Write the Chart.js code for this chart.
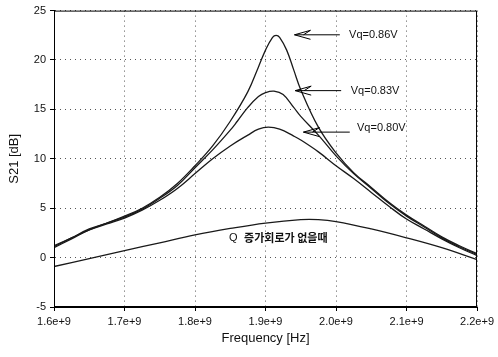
<!DOCTYPE html>
<html>
<head>
<meta charset="utf-8">
<script src="https://cdn.jsdelivr.net/npm/chart.js@4/dist/chart.umd.min.js"></script>
<style>
html,body{margin:0;padding:0;background:#fff;}
#wrap{width:498px;height:357px;position:relative;}
</style>
</head>
<body>
<div id="wrap"><canvas id="c" width="498" height="357"></canvas></div>
<script>
// Frequencies in GHz (x 1e9 Hz), S21 in dB
const freq86 = [1.600,1.625,1.650,1.675,1.700,1.725,1.750,1.775,1.800,1.825,1.850,1.875,1.890,1.900,1.910,1.915,1.920,1.930,1.940,1.950,1.975,2.000,2.025,2.050,2.075,2.100,2.125,2.150,2.175,2.200];
const s86    = [1.1,2.0,2.9,3.5,4.2,5.0,6.1,7.5,9.3,11.3,13.8,16.8,19.3,21.0,22.3,22.5,22.3,21.0,19.0,17.0,13.2,10.6,8.6,7.1,5.6,4.3,3.2,2.1,1.2,0.4];
const freq83 = [1.600,1.625,1.650,1.675,1.700,1.725,1.750,1.775,1.800,1.825,1.850,1.860,1.875,1.890,1.900,1.912,1.925,1.940,1.950,1.975,2.000,2.025,2.050,2.075,2.100,2.125,2.150,2.175,2.200];
const s83    = [1.0,1.9,2.8,3.5,4.1,4.9,6.0,7.3,9.1,10.9,12.9,13.8,15.2,16.3,16.7,16.85,16.5,15.2,14.3,12.4,10.3,8.5,7.0,5.5,4.2,3.1,2.0,1.1,0.3];
const freq80 = [1.600,1.625,1.650,1.675,1.700,1.725,1.750,1.775,1.800,1.825,1.850,1.875,1.890,1.904,1.920,1.940,1.950,1.975,2.000,2.025,2.050,2.075,2.100,2.125,2.150,2.175,2.200];
const s80    = [1.2,2.0,2.8,3.4,4.0,4.8,5.8,7.0,8.5,10.0,11.3,12.4,13.0,13.2,13.0,12.3,11.9,10.7,9.3,8.0,6.6,5.2,3.9,2.9,1.9,1.0,0.2];
const freqNoQ = [1.600,1.650,1.700,1.750,1.800,1.850,1.900,1.950,1.975,2.000,2.050,2.100,2.150,2.200];
const sNoQ    = [-0.9,-0.1,0.7,1.5,2.3,2.95,3.5,3.85,3.85,3.65,2.9,2.0,1.0,-0.2];
const xTicks = [1.6,1.7,1.8,1.9,2.0,2.1,2.2];
const yTicks = [-5,0,5,10,15,20,25];
const seriesLabels = ['Vq=0.86V','Vq=0.83V','Vq=0.80V','Q 증가회로가 없을때'];

// annotation placement (data coordinates)
const notes = [
  {text:seriesLabels[0], tip:1.9411, tail:2.0054, ay:22.55, tx:2.0185, ty:22.55},
  {text:seriesLabels[1], tip:1.9421, tail:2.0073, ay:16.9, tx:2.0209, ty:16.9},
  {text:seriesLabels[2], tip:1.9538, tail:2.0195, ay:12.7, tx:2.0298, ty:13.1}
];
const noQNote = {x:1.8483, y:1.97};

const GHZ = 1e9;
const pts = (fx, fy) => fx.map((f,i)=>({x:f*GHZ, y:fy[i]}));
const lineStyle = {borderColor:'#1a1a1a', borderWidth:1.3, pointRadius:0, fill:false, tension:0.4};

const deco = {
  id:'deco',
  afterDatasetsDraw(chart){
    const {ctx, chartArea:a, scales:{x,y}} = chart;
    ctx.save();
    ctx.strokeStyle='#000'; ctx.lineWidth=1;
    ctx.strokeRect(a.left+0.5, a.top+0.5, a.right-a.left-1, a.bottom-a.top-1);
    ctx.fillStyle='#111';
    ctx.font='11px "Liberation Sans", Arial, sans-serif';
    ctx.textBaseline='middle';
    notes.forEach(n=>{
      const px1=x.getPixelForValue(n.tip*GHZ), px2=x.getPixelForValue(n.tail*GHZ), py=y.getPixelForValue(n.ay);
      ctx.lineWidth=1;
      ctx.beginPath();
      ctx.moveTo(px2,py); ctx.lineTo(px1,py);
      ctx.moveTo(px1+16,py-4.5); ctx.lineTo(px1,py); ctx.lineTo(px1+16,py+4.5);
      ctx.moveTo(px1+16,py-4.5); ctx.lineTo(px1+9,py);
      ctx.stroke();
      ctx.fillText(n.text, x.getPixelForValue(n.tx*GHZ), y.getPixelForValue(n.ty));
    });
    const label = seriesLabels[3];
    const qx = x.getPixelForValue(noQNote.x*GHZ), qy=y.getPixelForValue(noQNote.y);
    ctx.font='11px "Liberation Sans", Arial, sans-serif';
    ctx.fillText(label.charAt(0), qx, qy);
    ctx.font='bold 11px "Noto Sans CJK KR", sans-serif';
    ctx.fillText(label.slice(2), qx+15, qy);
    ctx.restore();
  }
};

new Chart(document.getElementById('c'), {
  type:'line',
  data:{datasets:[
    {label:seriesLabels[0], data:pts(freq86,s86), ...lineStyle},
    {label:seriesLabels[1], data:pts(freq83,s83), ...lineStyle},
    {label:seriesLabels[2], data:pts(freq80,s80), ...lineStyle},
    {label:seriesLabels[3], data:pts(freqNoQ,sNoQ), ...lineStyle}
  ]},
  options:{
    responsive:false, animation:false,
    layout:{padding:{top:10,right:18,left:0,bottom:0}},
    plugins:{legend:{display:false}, tooltip:{enabled:false}},
    scales:{
      x:{type:'linear', min:1.6*GHZ, max:2.2*GHZ,
        afterBuildTicks:s=>{s.ticks=xTicks.map(v=>({value:v*GHZ}));},
        afterFit:s=>{s.height=50;},
        ticks:{color:'#111', font:{family:'"Liberation Sans", Arial, sans-serif', size:11}, padding:4, maxRotation:0, autoSkip:false,
          callback:v=>(v/GHZ).toFixed(1)+'e+9'},
        grid:{color:'#555', lineWidth:1, tickLength:4, tickColor:'#000', tickBorderDash:[]},
        border:{color:'#000', width:1, dash:[1,4]},
        title:{display:true, text:'Frequency [Hz]', color:'#111', font:{family:'"Liberation Sans", Arial, sans-serif', size:13}, padding:{top:0,bottom:11}}
      },
      y:{type:'linear', min:-5, max:25,
        afterBuildTicks:s=>{s.ticks=yTicks.map(v=>({value:v}));},
        afterFit:s=>{s.width=54;},
        ticks:{color:'#111', font:{family:'"Liberation Sans", Arial, sans-serif', size:11}, padding:4},
        grid:{color:'#555', lineWidth:1, tickLength:4, tickColor:'#000', tickBorderDash:[]},
        border:{color:'#000', width:1, dash:[1,4]},
        title:{display:true, text:'S21 [dB]', color:'#111', font:{family:'"Liberation Sans", Arial, sans-serif', size:13}, padding:{top:7,bottom:0}}
      }
    }
  },
  plugins:[deco]
});
</script>
</body>
</html>
